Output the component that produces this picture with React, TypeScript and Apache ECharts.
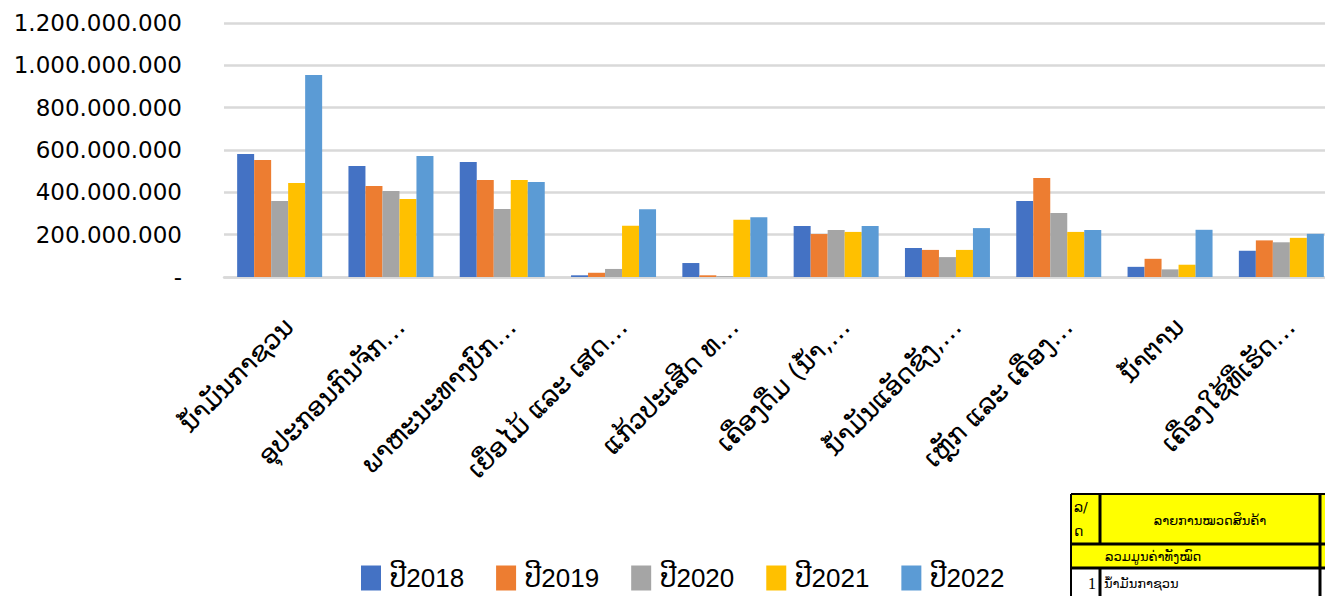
import React, { useEffect, useRef } from "react";
import * as echarts from "echarts";

const categories = [
  "ນ້ຳມັນກາຊວນ",
  "ອຸປະກອນກົນຈັກ…",
  "ພາຫະນະທາງບົກ…",
  "ເຍື່ອໄມ້ ແລະ ເສດ…",
  "ແກ້ວປະເສີດ ທ…",
  "ເຄື່ອງດື່ມ (ນ້ຳ,…",
  "ນ້ຳມັນແອັດຊັງ,…",
  "ເຫຼັກ ແລະ ເຄື່ອງ…",
  "ນ້ຳຕານ",
  "ເຄື່ອງໃຊ້ທີ່ເຮັດ…",
];

const seriesNames = ["ປີ2018", "ປີ2019", "ປີ2020", "ປີ2021", "ປີ2022"];
const colors = ["#4472C4", "#ED7D31", "#A5A5A5", "#FFC000", "#5B9BD5"];

const y2018 = [581e6, 524e6, 543e6, 8e6, 66e6, 241e6, 137e6, 359e6, 48e6, 124e6];
const y2019 = [553e6, 430e6, 458e6, 20e6, 8e6, 203e6, 128e6, 468e6, 86e6, 173e6];
const y2020 = [359e6, 406e6, 321e6, 38e6, 4e6, 222e6, 94e6, 302e6, 36e6, 164e6];
const y2021 = [444e6, 368e6, 458e6, 242e6, 271e6, 213e6, 128e6, 213e6, 58e6, 185e6];
const y2022 = [954e6, 572e6, 449e6, 320e6, 282e6, 241e6, 231e6, 222e6, 223e6, 204e6];
const allSeries = [y2018, y2019, y2020, y2021, y2022];

const tableHeaderNo = ["ລ/", "ດ"];
const tableHeaderName = "ລາຍການໝວດສິນຄ້າ";
const tableTotal = "ລວມມູນຄ່າທັງໝົດ";
const tableRowNo = "1";
const tableRowName = "ນ້ຳມັນກາຊວນ";

function fmt(v: number): string {
  if (v === 0) return "-";
  return String(Math.round(v)).replace(/\B(?=(\d{3})+(?!\d))/g, ".");
}

export default function App() {
  const ref = useRef<HTMLDivElement>(null);
  useEffect(() => {
    if (!ref.current) return;
    const chart = echarts.init(ref.current, undefined, { renderer: "svg" });
    const laoFont = "'DejaVu Sans', 'Noto Sans', sans-serif";
    const tableFont = "'DejaVu Sans', sans-serif";
    const black = "#000";
    const yellow = "#FFFF00";
    chart.setOption({
      animation: false,
      grid: { left: 224, top: 23, height: 254, width: 1113 },
      legend: {
        left: 361,
        top: 565,
        padding: 0,
        itemWidth: 20,
        itemHeight: 25,
        itemGap: 32,
        icon: "rect",
        textStyle: {
          fontFamily: "'Liberation Sans', 'DejaVu Sans', sans-serif",
          fontSize: 26,
          lineHeight: 26,
          color: "#000",
          padding: [0, 0, 0, 4],
        },
        data: seriesNames,
      },
      xAxis: {
        type: "category",
        data: categories,
        axisLine: { show: true, lineStyle: { color: "#d9d9d9", width: 2.5 } },
        axisTick: { show: false },
        axisLabel: {
          rotate: 45,
          interval: 0,
          margin: 36,
          verticalAlign: "top",
          fontSize: 26,
          fontFamily: laoFont,
          color: "#000",
        },
      },
      yAxis: {
        type: "value",
        min: 0,
        max: 1.2e9,
        interval: 2e8,
        axisLine: { show: false },
        axisTick: { show: false },
        splitLine: { lineStyle: { color: "#d9d9d9", width: 2.5 } },
        axisLabel: {
          margin: 42,
          fontSize: 23,
          fontFamily: "'DejaVu Sans', sans-serif",
          color: "#000",
          formatter: (v: number) => fmt(v),
        },
      },
      series: seriesNames.map((name, i) => ({
        name,
        type: "bar",
        data: allSeries[i],
        barWidth: 17,
        barGap: "0%",
        itemStyle: { color: colors[i] },
      })),
      graphic: [
        { type: "rect", shape: { x: 1071, y: 494, width: 269, height: 50 }, style: { fill: yellow } },
        { type: "rect", shape: { x: 1071, y: 544, width: 269, height: 24 }, style: { fill: yellow } },
        { type: "rect", shape: { x: 1071, y: 568, width: 249, height: 28 }, style: { fill: "#fff" } },
        { type: "line", shape: { x1: 1071, y1: 494, x2: 1340, y2: 494 }, style: { stroke: black, lineWidth: 2 } },
        { type: "line", shape: { x1: 1071, y1: 494, x2: 1071, y2: 596 }, style: { stroke: black, lineWidth: 2 } },
        { type: "line", shape: { x1: 1100, y1: 494, x2: 1100, y2: 544 }, style: { stroke: black, lineWidth: 3 } },
        { type: "line", shape: { x1: 1100, y1: 568, x2: 1100, y2: 596 }, style: { stroke: black, lineWidth: 3 } },
        { type: "line", shape: { x1: 1071, y1: 544, x2: 1340, y2: 544 }, style: { stroke: black, lineWidth: 3 } },
        { type: "line", shape: { x1: 1071, y1: 568, x2: 1340, y2: 568 }, style: { stroke: black, lineWidth: 3 } },
        { type: "line", shape: { x1: 1320, y1: 494, x2: 1320, y2: 596 }, style: { stroke: black, lineWidth: 3 } },
        { type: "text", x: 1074, y: 507, style: { text: tableHeaderNo[0], font: `14px ${tableFont}`, fill: black, verticalAlign: "middle" } },
        { type: "text", x: 1074, y: 531, style: { text: tableHeaderNo[1], font: `14px ${tableFont}`, fill: black, verticalAlign: "middle" } },
        { type: "text", x: 1210, y: 520, style: { text: tableHeaderName, font: `13px ${tableFont}`, fill: black, align: "center", verticalAlign: "middle" } },
        { type: "text", x: 1105, y: 556, style: { text: tableTotal, font: `13px ${tableFont}`, fill: black, verticalAlign: "middle" } },
        { type: "text", x: 1096, y: 583, style: { text: tableRowNo, font: `16px 'Liberation Serif', serif`, fill: black, align: "right", verticalAlign: "middle" } },
        { type: "text", x: 1104, y: 583, style: { text: tableRowName, font: `13px ${tableFont}`, fill: black, verticalAlign: "middle" } },
      ],
    });
    return () => chart.dispose();
  }, []);
  return (
    <div style={{ position: "absolute", left: 0, top: 0, width: 1325, height: 596, overflow: "hidden", background: "#fff" }}>
      <div ref={ref} style={{ width: 1340, height: 596 }} />
    </div>
  );
}
